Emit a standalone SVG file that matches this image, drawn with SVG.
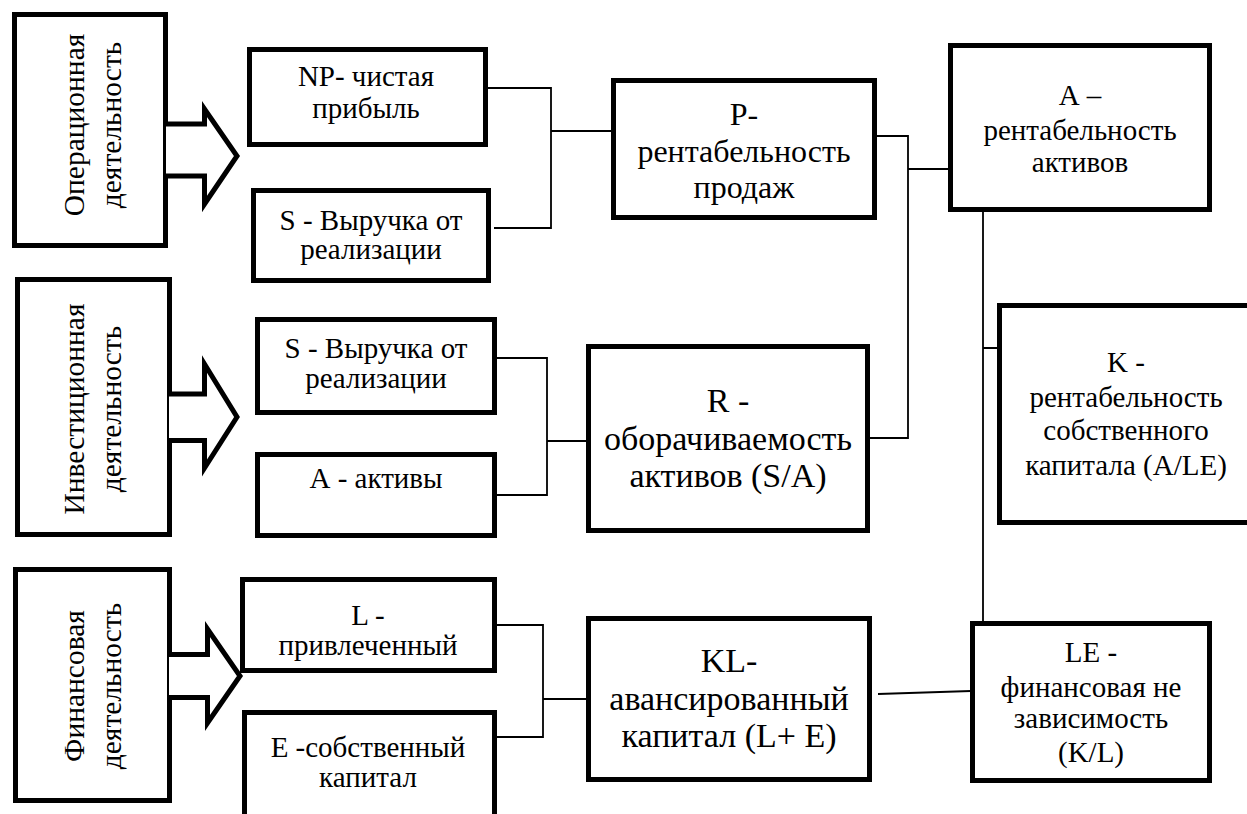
<svg xmlns="http://www.w3.org/2000/svg" width="1247" height="814" viewBox="0 0 1247 814">
<style>
.box{fill:#fff;stroke:#000;stroke-width:5}
.arr{fill:#fff;stroke:#000;stroke-width:5;stroke-linejoin:miter;stroke-miterlimit:10}
.ln{fill:none;stroke:#000;stroke-width:1.8}
.t{font-family:'Liberation Serif','Times New Roman',serif;fill:#000;text-anchor:middle}
.v{font-size:29.5px}
.s29{font-size:29px}
.s32{font-size:32px}
.s34{font-size:34px}
</style>
<rect width="1247" height="814" fill="#fff"/>

<g id="connectors">
<path class="ln" d="M488,88 H551 V228 H494 M551,131 H612"/>
<path class="ln" d="M497,358 H547 V495 H496 M547,441 H595"/>
<path class="ln" d="M497,625 H543 V737 H496 M543,699 H588"/>
<path class="ln" d="M871,136 H908 V438 H870 M908,169 H948"/>
<path class="ln" d="M983,212 V621 M983,348 H1000"/>
<path class="ln" d="M878,694 L971,691"/>
</g>

<g class="t" font-family="Liberation Serif, serif">

<g id="op">
<rect class="box" x="14.5" y="14.5" width="151" height="231"/>
<text class="v" transform="translate(84,125) rotate(-90)">Операционная</text>
<text class="v" transform="translate(121,125) rotate(-90)">деятельность</text>
</g>
<path id="arrow1" class="arr" d="M166,124 H204.5 V109 L237,156 L204.5,204 V176 H166"/>

<g id="inv">
<rect class="box" x="17.5" y="279.5" width="152" height="255"/>
<text class="v" transform="translate(84,409) rotate(-90)">Инвестиционная</text>
<text class="v" transform="translate(121,409) rotate(-90)">деятельность</text>
</g>
<path id="arrow2" class="arr" d="M169,394 H204.5 V364 L237,417 L204.5,468 V440.5 H169"/>

<g id="fin">
<rect class="box" x="15.5" y="569.5" width="154" height="231"/>
<text class="v" transform="translate(84,686) rotate(-90)">Финансовая</text>
<text class="v" transform="translate(121,686) rotate(-90)">деятельность</text>
</g>
<path id="arrow3" class="arr" d="M169,654.5 H207.5 V629 L240,676 L207.5,723 V697.5 H169"/>

<g id="np">
<rect class="box" x="249.5" y="49.5" width="236" height="95"/>
<text class="s29" x="366" y="86">NP- чистая</text>
<text class="s29" x="366" y="118">прибыль</text>
</g>

<g id="s1">
<rect class="box" x="253.5" y="190.5" width="235" height="90"/>
<text class="s29" x="371" y="230">S - Выручка от</text>
<text class="s29" x="371" y="259">реализации</text>
</g>

<g id="s2">
<rect class="box" x="257.5" y="319.5" width="237" height="93"/>
<text class="s29" x="376" y="358">S - Выручка от</text>
<text class="s29" x="376" y="388">реализации</text>
</g>

<g id="a-aktivy">
<rect class="box" x="257.5" y="454.5" width="237" height="81"/>
<text class="s29" x="376" y="488">А - активы</text>
</g>

<g id="l">
<rect class="box" x="242.5" y="579.5" width="252" height="91"/>
<text class="s29" x="368" y="625">L -</text>
<text class="s29" x="368" y="655">привлеченный</text>
</g>

<g id="e">
<rect class="box" x="244.5" y="712.5" width="250" height="115"/>
<text class="s29" x="368" y="757">E -собственный</text>
<text class="s29" x="368" y="787">капитал</text>
</g>

<g id="p">
<rect class="box" x="613.5" y="80.5" width="261" height="137"/>
<text class="s32" x="744" y="125">P-</text>
<text class="s32" x="744" y="162">рентабельность</text>
<text class="s32" x="744" y="198">продаж</text>
</g>

<g id="r">
<rect class="box" x="588.5" y="346.5" width="279" height="184"/>
<text class="s34" x="728" y="412">R -</text>
<text class="s34" x="728" y="450">оборачиваемость</text>
<text class="s34" x="728" y="487">активов (S/A)</text>
</g>

<g id="kl">
<rect class="box" x="588.5" y="618.5" width="281" height="161"/>
<text class="s34" x="729" y="672">KL-</text>
<text class="s34" x="729" y="710">авансированный</text>
<text class="s34" x="729" y="747">капитал (L+ E)</text>
</g>

<g id="a">
<rect class="box" x="950.5" y="45.5" width="259" height="164"/>
<text class="s29" x="1080" y="105">А –</text>
<text class="s29" x="1080" y="140">рентабельность</text>
<text class="s29" x="1080" y="172">активов</text>
</g>

<g id="k">
<rect class="box" x="999.5" y="305.5" width="262" height="217"/>
<text class="s29" x="1126" y="372">K -</text>
<text class="s29" x="1126" y="407">рентабельность</text>
<text class="s29" x="1126" y="440">собственного</text>
<text class="s29" x="1126" y="475">капитала (A/LE)</text>
</g>

<g id="le">
<rect class="box" x="972.5" y="623.5" width="237" height="157"/>
<text class="s29" x="1091" y="662">LE -</text>
<text class="s29" x="1091" y="697">финансовая не</text>
<text class="s29" x="1091" y="728">зависимость</text>
<text class="s29" x="1091" y="762">(K/L)</text>
</g>

</g>
</svg>
